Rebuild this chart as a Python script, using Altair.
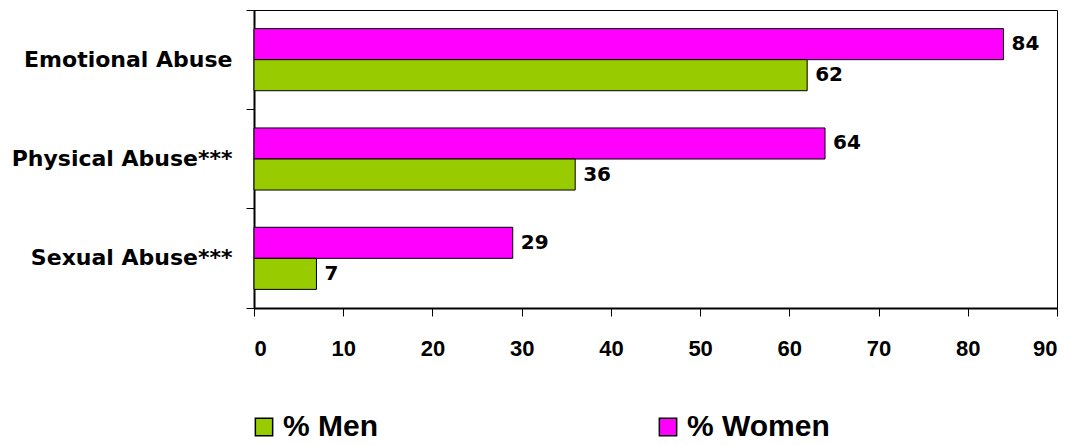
import altair as alt
import pandas as pd

categories = ["Emotional Abuse", "Physical Abuse***", "Sexual Abuse***"]
men = [62, 36, 7]
women = [84, 64, 29]
series = ["% Men", "% Women"]
colors = ["#99CC00", "#FF00FF"]
x_ticks = [0, 10, 20, 30, 40, 50, 60, 70, 80, 90]

rows = []
for c, m, w in zip(categories, men, women):
    rows.append({"cat": c, "series": "% Women", "value": w})
    rows.append({"cat": c, "series": "% Men", "value": m})
df = pd.DataFrame(rows)

W, H = 803, 298

y_enc = alt.Y(
    "cat:N",
    sort=categories,
    title=None,
    scale=alt.Scale(paddingInner=0, paddingOuter=0),
    axis=alt.Axis(
        labelFont="DejaVu Sans",
        labelFontWeight="bold",
        labelFontSize=22,
        labelColor="black",
        labelPadding=14,
        labelLimit=300,
        tickSize=8,
        tickColor="black",
        domainColor="black",
        domainWidth=2,
        bandPosition=1,
        tickExtra=True,
    ),
)
yoff = alt.YOffset(
    "series:N",
    sort=["% Women", "% Men"],
    scale=alt.Scale(paddingInner=0, paddingOuter=0.6),
)
x_enc = alt.X(
    "value:Q",
    title=None,
    scale=alt.Scale(domain=[0, 90], nice=False),
    axis=alt.Axis(
        values=x_ticks,
        grid=False,
        labelFont="Liberation Sans",
        labelFontWeight="bold",
        labelFontSize=22,
        labelColor="black",
        labelPadding=22,
        tickSize=8,
        tickColor="black",
        domainColor="black",
        domainWidth=2,
    ),
)

bars = alt.Chart(df).mark_bar(stroke="black", strokeWidth=1).encode(
    x=x_enc,
    y=y_enc,
    yOffset=yoff,
    color=alt.Color(
        "series:N",
        scale=alt.Scale(domain=series, range=colors),
        legend=alt.Legend(
            title=None,
            orient="none",
            legendX=-5,
            legendY=402,
            direction="horizontal",
            symbolType="square",
            symbolSize=300,
            symbolStrokeColor="black",
            symbolStrokeWidth=1.5,
            symbolOpacity=1,
            labelFont="Liberation Sans",
            labelFontWeight="bold",
            labelFontSize=30,
            labelColor="black",
            labelOffset=4,
            columnPadding=274,
            labelLimit=300,
        ),
    ),
)

labels = alt.Chart(df).mark_text(
    align="left", baseline="middle", dx=8,
    font="DejaVu Sans", fontWeight="bold", fontSize=20, color="black",
).encode(
    x="value:Q",
    y=alt.Y("cat:N", sort=categories),
    yOffset=alt.YOffset("series:N", sort=["% Women", "% Men"]),
    text="value:Q",
)

chart = (
    alt.layer(bars, labels)
    .properties(
        width=W,
        height=H,
        padding={"left": 246, "top": 2, "right": 8, "bottom": 140},
        autosize=alt.AutoSizeParams(type="none"),
    )
    .configure_view(stroke="black", strokeWidth=1)
)

chart.save("out.html", embed_options={"renderer": "svg", "actions": False})
